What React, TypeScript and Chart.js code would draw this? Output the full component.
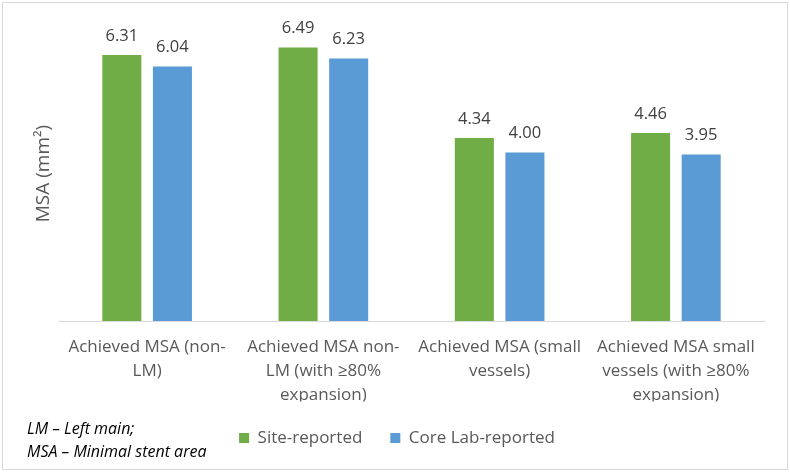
import React, { useEffect, useRef } from 'react';
import { Chart, registerables } from 'chart.js';

Chart.register(...registerables);

const categories: string[][] = [
  ['Achieved MSA (non-', 'LM)'],
  ['Achieved MSA non-', 'LM (with ≥80%', 'expansion)'],
  ['Achieved MSA (small', 'vessels)'],
  ['Achieved MSA small', 'vessels (with ≥80%', 'expansion)'],
];
const siteReported = [6.31, 6.49, 4.34, 4.46];
const coreLabReported = [6.04, 6.23, 4.0, 3.95];
const seriesNames = ['Site-reported', 'Core Lab-reported'];
const seriesColors = ['#70AD47', '#5B9BD5'];
const yAxisTitle = 'MSA (mm²)';
const footnotes = ['LM – Left main;', 'MSA – Minimal stent area'];
const yMin = 0;
const yMax = 7;

const FONT = '"Open Sans", "DejaVu Sans", sans-serif';

const framePlugin = {
  id: 'frame',
  beforeDraw(chart: any) {
    const ctx = chart.ctx;
    ctx.save();
    ctx.fillStyle = '#ffffff';
    ctx.fillRect(0, 0, chart.width, chart.height);
    ctx.strokeStyle = '#d9d9d9';
    ctx.lineWidth = 1;
    ctx.strokeRect(2.5, 2.5, chart.width - 5, chart.height - 5);
    ctx.restore();
  },
};

const dataLabelPlugin = {
  id: 'dataLabels',
  afterDatasetsDraw(chart: any) {
    const ctx = chart.ctx;
    ctx.save();
    ctx.font = `16.5px ${FONT}`;
    ctx.fillStyle = '#404040';
    ctx.textAlign = 'center';
    ctx.textBaseline = 'alphabetic';
    chart.data.datasets.forEach((ds: any, di: number) => {
      const meta = chart.getDatasetMeta(di);
      meta.data.forEach((bar: any, i: number) => {
        const v = ds.data[i] as number;
        ctx.fillText(v.toFixed(2), bar.x, bar.y - 14.5);
      });
    });
    ctx.restore();
  },
};

const footnotePlugin = {
  id: 'footnote',
  afterDraw(chart: any) {
    const ctx = chart.ctx;
    ctx.save();
    ctx.font = `italic 16px ${FONT}`;
    ctx.fillStyle = '#000000';
    ctx.textAlign = 'left';
    ctx.textBaseline = 'middle';
    footnotes.forEach((t, i) => {
      ctx.fillText(t, 27, 429 + i * 23);
    });
    ctx.restore();
  },
};

export default function App() {
  const ref = useRef<HTMLCanvasElement | null>(null);

  useEffect(() => {
    if (!ref.current) return;
    const chart = new Chart(ref.current, {
      type: 'bar',
      data: {
        labels: categories,
        datasets: [
          {
            label: seriesNames[0],
            data: siteReported,
            backgroundColor: seriesColors[0],
            categoryPercentage: 0.574,
            barPercentage: 0.772,
          },
          {
            label: seriesNames[1],
            data: coreLabReported,
            backgroundColor: seriesColors[1],
            categoryPercentage: 0.574,
            barPercentage: 0.772,
          },
        ],
      },
      options: {
        responsive: false,
        animation: false,
        layout: { padding: { left: 30, right: 26, top: 26, bottom: 15.5 } },
        plugins: {
          tooltip: { enabled: false },
          title: { display: false },
          legend: {
            position: 'bottom',
            labels: {
              boxWidth: 10,
              boxHeight: 10,
              padding: 28,
              color: '#595959',
              font: { family: FONT, size: 17 },
            },
          },
        },
        scales: {
          x: {
            grid: { display: false, drawTicks: false },
            border: { display: true, color: '#d9d9d9', width: 1 },
            ticks: {
              color: '#595959',
              font: { family: FONT, size: 17, lineHeight: 1.41 },
              padding: 14,
              maxRotation: 0,
              minRotation: 0,
              autoSkip: false,
            },
            afterFit(scale: any) {
              scale.height = 80.5;
            },
          },
          y: {
            min: yMin,
            max: yMax,
            ticks: { display: false },
            grid: { display: false },
            border: { display: false },
            title: {
              display: true,
              text: yAxisTitle,
              color: '#595959',
              font: { family: FONT, size: 19 },
              padding: { top: 2, bottom: 0 },
            },
            afterFit(scale: any) {
              scale.width = 29;
            },
          },
        },
      },
      plugins: [framePlugin, dataLabelPlugin, footnotePlugin],
    } as any);
    return () => chart.destroy();
  }, []);

  return (
    <div style={{ position: 'absolute', left: 0, top: 0, width: 790, height: 472 }}>
      <canvas ref={ref} width={790} height={472} />
    </div>
  );
}
